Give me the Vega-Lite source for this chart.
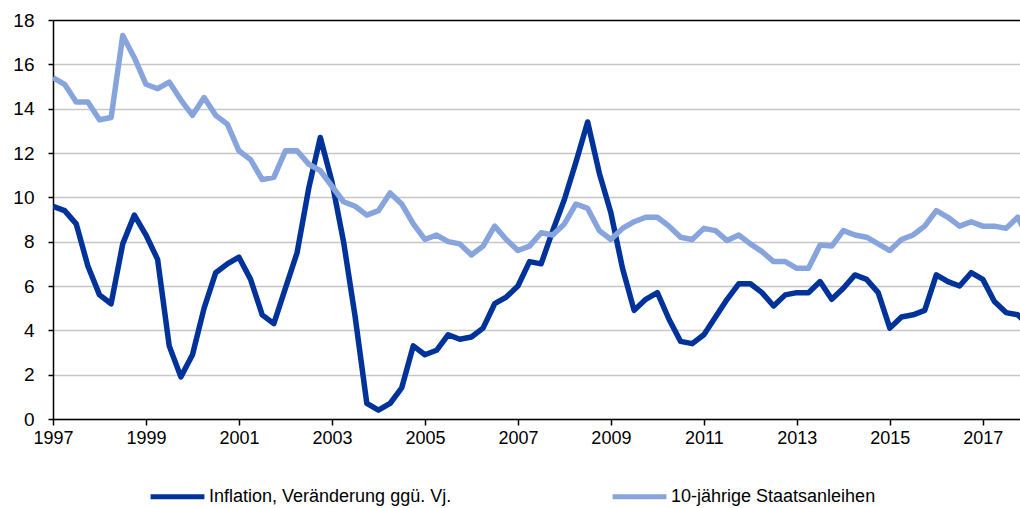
{
  "$schema": "https://vega.github.io/schema/vega-lite/v6.json",
  "width": 967,
  "height": 399,
  "autosize": {"type": "none"},
  "padding": {"left": 53, "top": 20, "right": 0, "bottom": 89},
  "background": "white",
  "config": {
    "view": {"stroke": null},
    "font": "Liberation Sans",
    "axis": {"labelFont": "Liberation Sans", "labelFontSize": 18, "labelColor": "#000000", "domainColor": "#000000", "tickColor": "#000000", "domainWidth": 1.5, "tickWidth": 1.5}
  },
  "data": {
    "values": [
      {"t": 1997.0, "inf": 9.6, "bond": 15.4},
      {"t": 1997.25, "inf": 9.4, "bond": 15.1},
      {"t": 1997.5, "inf": 8.8, "bond": 14.3},
      {"t": 1997.75, "inf": 6.9, "bond": 14.3},
      {"t": 1998.0, "inf": 5.6, "bond": 13.5},
      {"t": 1998.25, "inf": 5.2, "bond": 13.6},
      {"t": 1998.5, "inf": 7.9, "bond": 17.3},
      {"t": 1998.75, "inf": 9.2, "bond": 16.3},
      {"t": 1999.0, "inf": 8.3, "bond": 15.1},
      {"t": 1999.25, "inf": 7.2, "bond": 14.9},
      {"t": 1999.5, "inf": 3.3, "bond": 15.2},
      {"t": 1999.75, "inf": 1.9, "bond": 14.4},
      {"t": 2000.0, "inf": 2.9, "bond": 13.7},
      {"t": 2000.25, "inf": 5.0, "bond": 14.5},
      {"t": 2000.5, "inf": 6.6, "bond": 13.7},
      {"t": 2000.75, "inf": 7.0, "bond": 13.3},
      {"t": 2001.0, "inf": 7.3, "bond": 12.1},
      {"t": 2001.25, "inf": 6.3, "bond": 11.7},
      {"t": 2001.5, "inf": 4.7, "bond": 10.8},
      {"t": 2001.75, "inf": 4.3, "bond": 10.9},
      {"t": 2002.0, "inf": 5.9, "bond": 12.1},
      {"t": 2002.25, "inf": 7.5, "bond": 12.1},
      {"t": 2002.5, "inf": 10.4, "bond": 11.5},
      {"t": 2002.75, "inf": 12.7, "bond": 11.2},
      {"t": 2003.0, "inf": 10.7, "bond": 10.5},
      {"t": 2003.25, "inf": 8.0, "bond": 9.8},
      {"t": 2003.5, "inf": 4.6, "bond": 9.6},
      {"t": 2003.75, "inf": 0.7, "bond": 9.2},
      {"t": 2004.0, "inf": 0.4, "bond": 9.4},
      {"t": 2004.25, "inf": 0.7, "bond": 10.2},
      {"t": 2004.5, "inf": 1.4, "bond": 9.7},
      {"t": 2004.75, "inf": 3.3, "bond": 8.8},
      {"t": 2005.0, "inf": 2.9, "bond": 8.1},
      {"t": 2005.25, "inf": 3.1, "bond": 8.3},
      {"t": 2005.5, "inf": 3.8, "bond": 8.0},
      {"t": 2005.75, "inf": 3.6, "bond": 7.9},
      {"t": 2006.0, "inf": 3.7, "bond": 7.4},
      {"t": 2006.25, "inf": 4.1, "bond": 7.8},
      {"t": 2006.5, "inf": 5.2, "bond": 8.7},
      {"t": 2006.75, "inf": 5.5, "bond": 8.1},
      {"t": 2007.0, "inf": 6.0, "bond": 7.6},
      {"t": 2007.25, "inf": 7.1, "bond": 7.8},
      {"t": 2007.5, "inf": 7.0, "bond": 8.4},
      {"t": 2007.75, "inf": 8.5, "bond": 8.3},
      {"t": 2008.0, "inf": 9.9, "bond": 8.8},
      {"t": 2008.25, "inf": 11.6, "bond": 9.7},
      {"t": 2008.5, "inf": 13.4, "bond": 9.5},
      {"t": 2008.75, "inf": 11.1, "bond": 8.5},
      {"t": 2009.0, "inf": 9.3, "bond": 8.1},
      {"t": 2009.25, "inf": 6.8, "bond": 8.6},
      {"t": 2009.5, "inf": 4.9, "bond": 8.9},
      {"t": 2009.75, "inf": 5.4, "bond": 9.1},
      {"t": 2010.0, "inf": 5.7, "bond": 9.1},
      {"t": 2010.25, "inf": 4.5, "bond": 8.7},
      {"t": 2010.5, "inf": 3.5, "bond": 8.2},
      {"t": 2010.75, "inf": 3.4, "bond": 8.1},
      {"t": 2011.0, "inf": 3.8, "bond": 8.6},
      {"t": 2011.25, "inf": 4.6, "bond": 8.5},
      {"t": 2011.5, "inf": 5.4, "bond": 8.05},
      {"t": 2011.75, "inf": 6.1, "bond": 8.3},
      {"t": 2012.0, "inf": 6.1, "bond": 7.9},
      {"t": 2012.25, "inf": 5.7, "bond": 7.55},
      {"t": 2012.5, "inf": 5.1, "bond": 7.1},
      {"t": 2012.75, "inf": 5.6, "bond": 7.1},
      {"t": 2013.0, "inf": 5.7, "bond": 6.8},
      {"t": 2013.25, "inf": 5.7, "bond": 6.8},
      {"t": 2013.5, "inf": 6.2, "bond": 7.85},
      {"t": 2013.75, "inf": 5.4, "bond": 7.8},
      {"t": 2014.0, "inf": 5.9, "bond": 8.5},
      {"t": 2014.25, "inf": 6.5, "bond": 8.3},
      {"t": 2014.5, "inf": 6.3, "bond": 8.2},
      {"t": 2014.75, "inf": 5.7, "bond": 7.9},
      {"t": 2015.0, "inf": 4.1, "bond": 7.6},
      {"t": 2015.25, "inf": 4.6, "bond": 8.1},
      {"t": 2015.5, "inf": 4.7, "bond": 8.3},
      {"t": 2015.75, "inf": 4.9, "bond": 8.7},
      {"t": 2016.0, "inf": 6.5, "bond": 9.4},
      {"t": 2016.25, "inf": 6.2, "bond": 9.1},
      {"t": 2016.5, "inf": 6.0, "bond": 8.7},
      {"t": 2016.75, "inf": 6.6, "bond": 8.9},
      {"t": 2017.0, "inf": 6.3, "bond": 8.7},
      {"t": 2017.25, "inf": 5.3, "bond": 8.7},
      {"t": 2017.5, "inf": 4.8, "bond": 8.6},
      {"t": 2017.75, "inf": 4.7, "bond": 9.1},
      {"t": 2018.0, "inf": 4.2, "bond": 8.1}
    ]
  },
  "transform": [
    {"fold": ["inf", "bond"], "as": ["key", "value"]},
    {"lookup": "key", "from": {"data": {"values": [
      {"key": "inf", "series": "Inflation, Veränderung ggü. Vj."},
      {"key": "bond", "series": "10-jährige Staatsanleihen"}
    ]}, "key": "key", "fields": ["series"]}}
  ],
  "mark": {"type": "line", "strokeWidth": 5.5, "clip": true, "strokeJoin": "round"},
  "encoding": {
    "x": {
      "field": "t", "type": "quantitative",
      "scale": {"domain": [1997, 2017.8], "nice": false, "zero": false},
      "axis": {"title": null, "values": [1997, 1999, 2001, 2003, 2005, 2007, 2009, 2011, 2013, 2015, 2017], "format": "d", "grid": false, "tickSize": 6, "labelPadding": 4, "labelFlush": false}
    },
    "y": {
      "field": "value", "type": "quantitative",
      "scale": {"domain": [0, 18], "nice": false},
      "axis": {"title": null, "values": [0, 2, 4, 6, 8, 10, 12, 14, 16, 18], "tickSize": 5, "labelPadding": 14, "labelFontSize": 19,
        "gridColor": {"condition": {"test": "datum.value === 18", "value": "#000000"}, "value": "#c6c6c6"},
        "gridWidth": 1.5}
    },
    "color": {
      "field": "series", "type": "nominal",
      "scale": {"domain": ["Inflation, Veränderung ggü. Vj.", "10-jährige Staatsanleihen"], "range": ["#003399", "#88a4dc"]},
      "legend": {"title": null, "orient": "none", "direction": "horizontal", "legendX": 95, "legendY": 447,
        "symbolType": "stroke", "symbolSize": 2900, "symbolStrokeWidth": 5, "labelFont": "Liberation Sans", "labelFontSize": 18, "labelColor": "#000000", "labelOffset": 2, "columnPadding": 150, "labelLimit": 400}
    }
  }
}
